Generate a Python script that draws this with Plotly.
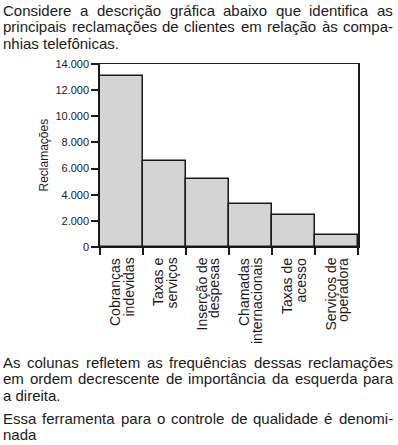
import plotly.graph_objects as go

# ---------------- data ----------------
categories = ["Cobranças indevidas", "Taxas e serviços", "Inserção de despesas",
              "Chamadas internacionais", "Taxas de acesso", "Serviços de operadora"]
label_lines = [["Cobranças", "indevidas"], ["Taxas e", "serviços"], ["Inserção de", "despesas"],
               ["Chamadas", "internacionais"], ["Taxas de", "acesso"], ["Serviços de", "operadora"]]
reclamacoes = [13100, 6550, 5200, 3300, 2450, 900]
y_ticks = [0, 2000, 4000, 6000, 8000, 10000, 12000, 14000]
y_title = "Reclamações"

intro_lines = ["Considere a descrição gráfica abaixo que identifica as",
               "principais reclamações de clientes em relação às compa-",
               "nhias telefônicas."]
intro_justify = [True, True, False]
outro_lines = ["As colunas refletem as frequências dessas reclamações",
               "em ordem decrescente de importância da esquerda para",
               "a direita.",
               "Essa ferramenta para o controle de qualidade é denomi-",
               "nada"]
outro_justify = [True, True, False, True, False]

# ---------------- layout constants ----------------
W, H = 398, 445
L, R, T, B = 100, 40, 64, 198
FONT = "Arial, Liberation Sans, Arimo, sans-serif"
INK = "#1a1a1a"
TEXT_SIZE = 15

# approximate Arial advance widths (1/1000 em) for justification
AW = {' ': 278, 'a': 556, 'b': 556, 'c': 500, 'd': 556, 'e': 556, 'f': 278, 'g': 556, 'h': 556,
      'i': 222, 'j': 222, 'k': 500, 'l': 222, 'm': 833, 'n': 556, 'o': 556, 'p': 556, 'q': 556,
      'r': 333, 's': 500, 't': 278, 'u': 556, 'v': 500, 'w': 722, 'x': 500, 'y': 500, 'z': 500,
      'A': 667, 'C': 722, 'E': 667, '-': 333, '.': 278, 'á': 556, 'à': 556, 'ã': 556, 'â': 556,
      'é': 556, 'ê': 556, 'ç': 500, 'õ': 556, 'ô': 556, 'í': 222, 'ú': 556}


def text_w(s, size):
    return sum(AW.get(ch, 556) for ch in s) * size / 1000.0


annotations = []


def add_text_line(line, justify, py, left=3, right=393):
    if not justify:
        annotations.append(dict(text=line, x=0, xref="paper", xanchor="left", xshift=left - L,
                                y=1, yref="paper", yanchor="middle", yshift=T - py,
                                showarrow=False, borderpad=0, borderwidth=0,
                                font=dict(family=FONT, size=TEXT_SIZE, color=INK)))
        return
    words = line.split(" ")
    ws = [text_w(w, TEXT_SIZE) for w in words]
    gap = (right - left - sum(ws)) / (len(words) - 1)
    x = left
    for w, wd in zip(words, ws):
        annotations.append(dict(text=w, x=0, xref="paper", xanchor="left", xshift=x - L,
                                y=1, yref="paper", yanchor="middle", yshift=T - py,
                                showarrow=False, borderpad=0, borderwidth=0,
                                font=dict(family=FONT, size=TEXT_SIZE, color=INK)))
        x += wd + gap


for i, (ln, j) in enumerate(zip(intro_lines, intro_justify)):
    add_text_line(ln, j, 10 + 16.8 * i)
outro_y = [362, 378.5, 395, 418, 434.5]
for ln, j, py in zip(outro_lines, outro_justify, outro_y):
    add_text_line(ln, j, py)

# category labels (rotated, two lines each)
for cat, lines in zip(categories, label_lines):
    n = len(lines)
    for k, ln in enumerate(lines):
        annotations.append(dict(text=ln, x=cat, xref="x", xanchor="center",
                                xshift=(k - (n - 1) / 2) * 13,
                                y=0, yref="paper", yanchor="top", yshift=-11,
                                textangle=-90, showarrow=False, borderpad=0, borderwidth=0,
                                font=dict(family=FONT, size=14, color=INK)))

# y-axis title
annotations.append(dict(text=y_title, x=0, xref="paper", xanchor="center", xshift=43 - L,
                        y=0.5, yref="paper", yanchor="middle", textangle=-90,
                        showarrow=False, borderpad=0, borderwidth=0,
                        font=dict(family=FONT, size=12, color=INK)))

fig = go.Figure(go.Bar(x=categories, y=reclamacoes,
                       marker=dict(color="#d4d4d4", line=dict(color=INK, width=1.5))))

fig.update_layout(
    width=W, height=H, margin=dict(l=L, r=R, t=T, b=B, autoexpand=False),
    paper_bgcolor="white", plot_bgcolor="white",
    separators=",.", bargap=0, showlegend=False,
    font=dict(family=FONT, color=INK),
    annotations=annotations,
    xaxis=dict(type="category", range=[-0.5, len(categories) - 0.5], tickson="boundaries",
               ticks="outside", ticklen=7, tickwidth=1.5, tickcolor=INK,
               showticklabels=False, showline=True, mirror=True, linecolor=INK, linewidth=1,
               showgrid=False, zeroline=False, fixedrange=True),
    yaxis=dict(range=[0, 14000], tickvals=y_ticks, tickformat=",d",
               ticks="outside", ticklen=7, tickwidth=1.5, tickcolor=INK,
               tickfont=dict(family=FONT, size=11, color=INK),
               showline=True, mirror=True, linecolor=INK, linewidth=1.5,
               showgrid=False, zeroline=False, fixedrange=True),
)

fig.write_html("out.html", config={"displayModeBar": False},
               post_script="document.body.style.margin='0';document.body.style.overflow='hidden';")
